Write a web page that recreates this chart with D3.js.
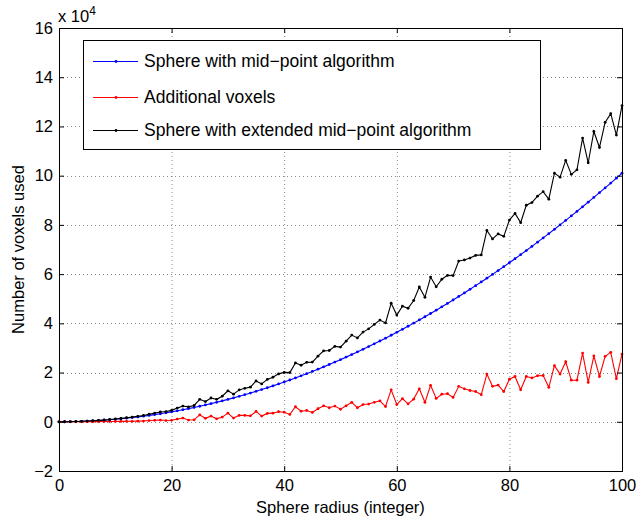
<!DOCTYPE html>
<html>
<head>
<meta charset="utf-8">
<script src="https://cdn.jsdelivr.net/npm/d3@7/dist/d3.min.js"></script>
<style>
  html, body { margin: 0; padding: 0; background: #fff; }
  svg { display: block; }
  text { font-family: "Liberation Sans", Arial, Helvetica, sans-serif; fill: #000; }
</style>
</head>
<body>
<svg id="chart" width="636" height="518"></svg>
<script>
// Sphere radius (integer), 0..100
const radius = d3.range(0, 101);

// Voxel count of the sphere built with the mid-point algorithm
const midPoint = [
  1, 10, 40, 91, 162, 253, 364, 495, 646, 818,
  1010, 1222, 1454, 1707, 1980, 2273, 2586, 2919, 3272, 3646,
  4040, 4454, 4888, 5343, 5818, 6313, 6828, 7363, 7918, 8494,
  9090, 9706, 10342, 10999, 11676, 12373, 13090, 13827, 14584, 15362,
  16160, 16978, 17816, 18675, 19554, 20453, 21372, 22311, 23270, 24250,
  25250, 26270, 27310, 28371, 29452, 30553, 31674, 32815, 33976, 35158,
  36360, 37582, 38824, 40087, 41370, 42673, 43996, 45339, 46702, 48086,
  49490, 50914, 52358, 53823, 55308, 56813, 58338, 59883, 61448, 63034,
  64640, 66266, 67912, 69579, 71266, 72973, 74700, 76447, 78214, 80002,
  81810, 83638, 85486, 87355, 89244, 91153, 93082, 95031, 97000, 98990,
  101000
];

// Extra voxels added by the extended algorithm
const additional = [
  0, 0, 10, 20, 30, 40, 50, 70, 90, 110,
  130, 150, 180, 200, 250, 300, 500, 600, 700, 500,
  600, 1100, 1500, 700, 800, 2800, 1400, 2300, 1200, 1900,
  3500, 1500, 2600, 2600, 2400, 4200, 2300, 3400, 3500, 4100,
  3900, 3000, 6100, 4300, 4600, 3800, 5300, 6500, 5700, 6400,
  5100, 6500, 7900, 5700, 7000, 7200, 7900, 8500, 6200, 13000,
  7000, 9400, 7300, 9200, 13400, 7900, 14800, 9500, 11200, 11400,
  9900, 14400, 13400, 12700, 12300, 11000, 19400, 14400, 14900, 12300,
  17300, 18400, 13000, 18400, 17800, 18700, 18800, 14000, 22800, 19400,
  24400, 16900, 16900, 27900, 16000, 26800, 18400, 26600, 28200, 17500,
  27500
];

// Voxel count of the sphere built with the extended mid-point algorithm
const extended = [
  1, 10, 50, 111, 192, 293, 414, 565, 736, 928,
  1140, 1372, 1634, 1907, 2230, 2573, 3086, 3519, 3972, 4146,
  4640, 5554, 6388, 6043, 6618, 9113, 8228, 9663, 9118, 10394,
  12590, 11206, 12942, 13599, 14076, 16573, 15390, 17227, 18084, 19462,
  20060, 19978, 23916, 22975, 24154, 24253, 26672, 28811, 28970, 30650,
  30350, 32770, 35210, 34071, 36452, 37753, 39574, 41315, 40176, 48158,
  43360, 46982, 46124, 49287, 54770, 50573, 58796, 54839, 57902, 59486,
  59390, 65314, 65758, 66523, 67608, 67813, 77738, 74283, 76348, 75334,
  81940, 84666, 80912, 87979, 89066, 91673, 93500, 90447, 101014, 99402,
  106210, 100538, 102386, 115255, 105244, 117953, 111482, 121631, 125200, 116490,
  128500
];

const xTicks = [0, 20, 40, 60, 80, 100];
const yTicks = [-20000, 0, 20000, 40000, 60000, 80000, 100000, 120000, 140000, 160000];

const seriesNames = [
  "Sphere with mid\u2212point algorithm",
  "Additional voxels",
  "Sphere with extended mid\u2212point algorithm"
];
const seriesColors = ["#0000ff", "#ff0000", "#000000"];
const seriesValues = [midPoint, additional, extended];

const svg = d3.select("#chart");
const plot = { left: 59, right: 622, top: 28, bottom: 471 };

const x = d3.scaleLinear().domain([0, 100]).range([plot.left, plot.right]);
const y = d3.scaleLinear().domain([-20000, 160000]).range([plot.bottom, plot.top]);

// dotted grid
const grid = svg.append("g");
grid.selectAll("line.gx").data(xTicks.slice(1, -1)).join("line")
  .attr("x1", d => x(d) + 0.5).attr("x2", d => x(d) + 0.5)
  .attr("y1", plot.top).attr("y2", plot.bottom)
  .attr("stroke", "#8a8a8a").attr("stroke-width", 1).attr("stroke-dasharray", "1,3");
grid.selectAll("line.gy").data(yTicks.slice(1, -1)).join("line")
  .attr("y1", d => Math.round(y(d)) + 0.5).attr("y2", d => Math.round(y(d)) + 0.5)
  .attr("x1", plot.left).attr("x2", plot.right)
  .attr("stroke", "#8a8a8a").attr("stroke-width", 1).attr("stroke-dasharray", "1,3");

// series lines with point markers
const line = d3.line().x((d, i) => x(radius[i])).y(d => y(d));
const marks = svg.append("g");
seriesValues.forEach((vals, k) => {
  const g = marks.append("g");
  g.append("path").datum(vals)
    .attr("fill", "none").attr("stroke", seriesColors[k]).attr("stroke-width", 1.1)
    .attr("d", line);
  g.selectAll("circle").data(vals).join("circle")
    .attr("cx", (d, i) => x(radius[i])).attr("cy", d => y(d))
    .attr("r", 1.4).attr("fill", seriesColors[k]);
});

// axes: box with inward ticks on all four sides
const tickLen = 5;
const axes = svg.append("g");
const fmtY = d => {
  const v = d / 10000;
  return v < 0 ? "\u2212" + Math.abs(v) : String(v);
};

axes.append("g").attr("transform", `translate(0,${plot.bottom})`)
  .call(d3.axisBottom(x).tickValues(xTicks).tickSizeInner(-tickLen).tickSizeOuter(0).tickPadding(8))
  .call(g => g.select(".domain").remove());
axes.append("g").attr("transform", `translate(0,${plot.top})`)
  .call(d3.axisTop(x).tickValues(xTicks).tickSizeInner(-tickLen).tickSizeOuter(0).tickFormat(""))
  .call(g => g.select(".domain").remove());
axes.append("g").attr("transform", `translate(${plot.left},0)`)
  .call(d3.axisLeft(y).tickValues(yTicks).tickSizeInner(-tickLen).tickSizeOuter(0).tickPadding(6).tickFormat(fmtY))
  .call(g => g.select(".domain").remove());
axes.append("g").attr("transform", `translate(${plot.right},0)`)
  .call(d3.axisRight(y).tickValues(yTicks).tickSizeInner(-tickLen).tickSizeOuter(0).tickFormat(""))
  .call(g => g.select(".domain").remove());

axes.selectAll(".tick line").attr("stroke", "#000");
axes.selectAll(".tick text")
  .attr("font-size", 16.5)
  .attr("font-family", "'Liberation Sans', Arial, sans-serif")
  .attr("fill", "#000");

axes.append("rect")
  .attr("x", plot.left + 0.5).attr("y", plot.top + 0.5)
  .attr("width", plot.right - plot.left).attr("height", plot.bottom - plot.top)
  .attr("fill", "none").attr("stroke", "#000").attr("stroke-width", 1);

// exponent label
const expo = svg.append("text").attr("x", 58).attr("y", 22).attr("font-size", 16.5);
expo.append("tspan").text("x 10");
expo.append("tspan").attr("dy", -7).attr("font-size", 12).text("4");

// axis titles
svg.append("text")
  .attr("x", x(50)).attr("y", 513).attr("text-anchor", "middle").attr("font-size", 16.5)
  .text("Sphere radius (integer)");
svg.append("text")
  .attr("transform", `translate(24,${(plot.top + plot.bottom) / 2}) rotate(-90)`)
  .attr("text-anchor", "middle").attr("font-size", 16.5)
  .text("Number of voxels used");

// legend
const legend = svg.append("g");
legend.append("rect")
  .attr("x", 83.5).attr("y", 40.5).attr("width", 457).attr("height", 109)
  .attr("fill", "#fff").attr("stroke", "#000").attr("stroke-width", 1);
const rowY = [61, 97, 130];
seriesNames.forEach((name, k) => {
  const row = legend.append("g").attr("transform", `translate(0,${rowY[k]})`);
  row.append("line").attr("x1", 93).attr("x2", 138).attr("y1", 0.5).attr("y2", 0.5)
    .attr("stroke", seriesColors[k]).attr("stroke-width", 1);
  row.append("circle").attr("cx", 116).attr("cy", 0.5).attr("r", 1.4).attr("fill", seriesColors[k]);
  row.append("text").attr("x", 144).attr("y", 0).attr("dy", "0.35em")
    .attr("font-size", 17.5).text(name);
});
</script>
</body>
</html>
